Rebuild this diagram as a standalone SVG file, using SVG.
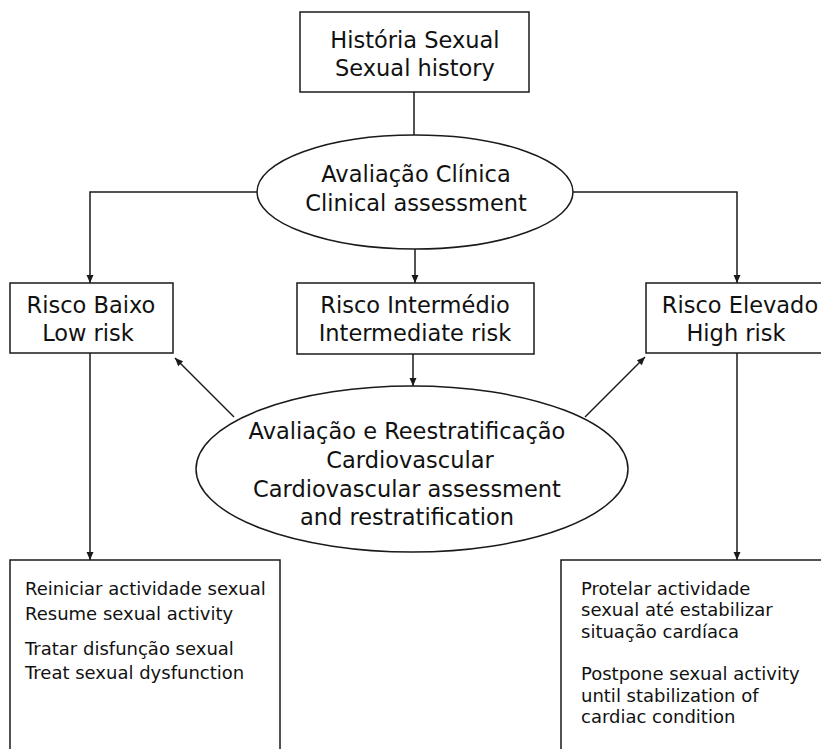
<svg xmlns="http://www.w3.org/2000/svg" width="821" height="749" viewBox="0 0 821 749">
<defs>
<marker id="ah" markerUnits="userSpaceOnUse" markerWidth="10" markerHeight="10" viewBox="0 0 10 10" refX="9" refY="5" orient="auto">
<path d="M1,1.5 L9,5 L1,8.5 Z" fill="#1a1a1a"/>
</marker>
<style>
.s{fill:#fff;stroke:#1a1a1a;stroke-width:1.5}
.c{fill:none;stroke:#1a1a1a;stroke-width:1.5}
.a{marker-end:url(#ah)}
.t{font-family:"DejaVu Sans",sans-serif;font-size:22.5px;fill:#111;text-anchor:middle}
.b{font-family:"DejaVu Sans",sans-serif;font-size:18px;fill:#111}
</style>
</defs>
<rect width="821" height="749" fill="#fff"/>
<g id="connectors">
<path class="c" d="M414,92 V135"/>
<path class="c a" d="M257,192 H90 V283"/>
<path class="c a" d="M573,192 H737 V283"/>
<path class="c a" d="M415,249 V283"/>
<path class="c a" d="M413,354 V386"/>
<path class="c a" d="M234,417 L175,358"/>
<path class="c a" d="M585,417 L645,357"/>
<path class="c a" d="M90,353 V560"/>
<path class="c a" d="M737,353 V560"/>
</g>
<g id="sexual-history">
<rect class="s" x="300" y="12" width="229" height="80"/>
<text class="t" x="415" y="48">História Sexual</text>
<text class="t" x="415" y="76">Sexual history</text>
</g>
<g id="clinical-assessment">
<ellipse class="s" cx="415" cy="192" rx="158" ry="57"/>
<text class="t" x="416" y="182">Avaliação Clínica</text>
<text class="t" x="416" y="211">Clinical assessment</text>
</g>
<g id="low-risk">
<rect class="s" x="10" y="283" width="163" height="70"/>
<text class="t" x="91" y="313">Risco Baixo</text>
<text class="t" x="88" y="341">Low risk</text>
</g>
<g id="intermediate-risk">
<rect class="s" x="297" y="283" width="237" height="71"/>
<text class="t" x="415" y="313">Risco Intermédio</text>
<text class="t" x="415" y="341">Intermediate risk</text>
</g>
<g id="high-risk">
<rect class="s" x="646" y="283" width="183" height="70"/>
<text class="t" x="740" y="313">Risco Elevado</text>
<text class="t" x="736" y="341">High risk</text>
</g>
<g id="reassessment">
<ellipse class="s" cx="412" cy="469" rx="216" ry="83"/>
<text class="t" x="407" y="439">Avaliação e Reestratificação</text>
<text class="t" x="410" y="468">Cardiovascular</text>
<text class="t" x="407" y="497">Cardiovascular assessment</text>
<text class="t" x="407" y="525">and restratification</text>
</g>
<g id="low-risk-action">
<rect class="s" x="10" y="560" width="270" height="200"/>
<text class="b" x="25" y="595">Reiniciar actividade sexual</text>
<text class="b" x="25" y="620">Resume sexual activity</text>
<text class="b" x="25" y="655">Tratar disfunção sexual</text>
<text class="b" x="25" y="679">Treat sexual dysfunction</text>
</g>
<g id="high-risk-action">
<rect class="s" x="561" y="560" width="280" height="200"/>
<text class="b" x="581" y="595">Protelar actividade</text>
<text class="b" x="581" y="616">sexual até estabilizar</text>
<text class="b" x="581" y="638">situação cardíaca</text>
<text class="b" x="581" y="680">Postpone sexual activity</text>
<text class="b" x="581" y="702">until stabilization of</text>
<text class="b" x="581" y="723">cardiac condition</text>
</g>
</svg>
